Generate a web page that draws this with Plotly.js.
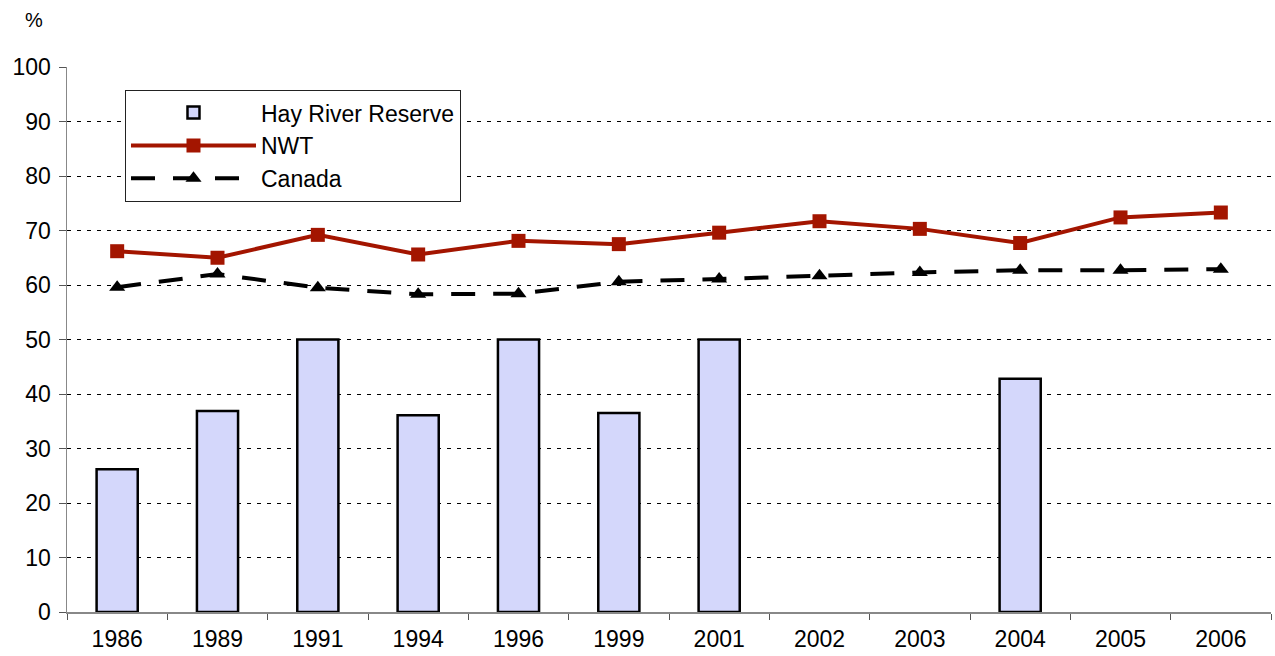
<!DOCTYPE html>
<html>
<head>
<meta charset="utf-8">
<script src="https://cdn.plot.ly/plotly-3.0.1.min.js"></script>
<style>html,body{margin:0;padding:0;background:#fff;}#chart{width:1275px;height:656px;}</style>
</head>
<body>
<div id="chart"></div>
<script>
var years = ["1986","1989","1991","1994","1996","1999","2001","2002","2003","2004","2005","2006"];
var hayRiver = [26.2, 36.9, 50.0, 36.1, 50.0, 36.5, 50.0, null, null, 42.8, null, null];
var nwt = [66.2, 65.0, 69.2, 65.6, 68.1, 67.5, 69.6, 71.7, 70.3, 67.7, 72.4, 73.3];
var canada = [59.6, 62.0, 59.5, 58.3, 58.4, 60.6, 61.1, 61.7, 62.3, 62.7, 62.7, 62.9];
var yTicks = [0,10,20,30,40,50,60,70,80,90,100];

var traces = [
  {type:'bar', name:'Hay River Reserve', x:years, y:hayRiver,
   marker:{color:'#D4D7FB', line:{color:'#000', width:2.5}}},
  {type:'scatter', mode:'lines+markers', name:'NWT', x:years, y:nwt,
   line:{color:'#A31500', width:4}, marker:{symbol:'square', size:14, color:'#A31500'}},
  {type:'scatter', mode:'lines+markers', name:'Canada', x:years, y:canada,
   line:{color:'#000', width:4, dash:'24px,18px'}, marker:{symbol:'triangle-up', size:14, color:'#000'}}
];

var layout = {
  width:1275, height:656,
  margin:{l:67, r:4, t:67, b:44},
  paper_bgcolor:'#fff', plot_bgcolor:'#fff',
  font:{family:'Liberation Sans, Arial, sans-serif', size:23, color:'#000'},
  bargap:0.59,
  showlegend:true,
  legend:{x:0.048, y:0.958, xanchor:'left', yanchor:'top', bgcolor:'#fff',
          bordercolor:'#222', borderwidth:1.2, font:{size:23}, tracegroupgap:0,
          itemwidth:125},
  xaxis:{type:'category', categoryorder:'array', categoryarray:years, range:[-0.5, 11.5],
         showgrid:false, showline:true, linecolor:'#888', linewidth:1.5,
         ticks:'outside', tickson:'boundaries', ticklen:6, tickcolor:'#555',
         ticklabelstandoff:6,
         tickfont:{size:23}, zeroline:false, fixedrange:true},
  yaxis:{range:[0,100], tickvals:yTicks, showgrid:true, gridcolor:'#000',
         griddash:'4px,6px', gridwidth:1, showline:true, linecolor:'#888', linewidth:1.5,
         ticks:'outside', ticklen:7, tickcolor:'#555', tickfont:{size:23},
         ticklabelstandoff:3,
         zeroline:false, fixedrange:true},
  annotations:[{text:'%', xref:'paper', yref:'paper', x:-0.027, y:1.087,
    showarrow:false, font:{size:20}, xanchor:'center', yanchor:'middle'}]
};

Plotly.newPlot('chart', traces, layout, {displayModeBar:false, staticPlot:true});
</script>
</body>
</html>
